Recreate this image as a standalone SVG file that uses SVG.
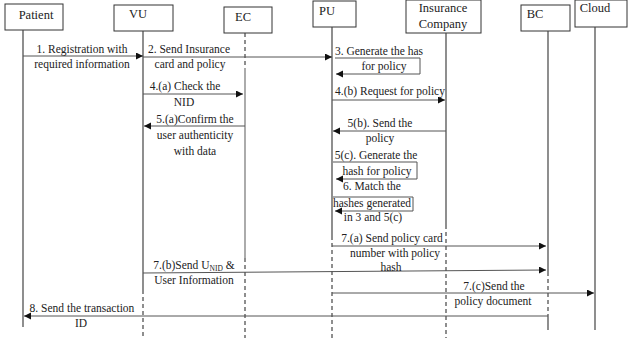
<svg xmlns="http://www.w3.org/2000/svg" width="628" height="339" viewBox="0 0 628 339">
<style>
.box{fill:#fff;stroke:#333;stroke-width:1}
.hd{font-family:"Liberation Serif",serif;font-size:12.5px;fill:#222;text-anchor:middle}
.t{font-family:"Liberation Serif",serif;font-size:11.5px;fill:#222;text-anchor:middle}
.sub{font-size:7.5px}
.ll{stroke:#444;stroke-width:1.2;fill:none}
.lg{stroke:#888;stroke-width:1.4;fill:none}
.dash{stroke-dasharray:4,3}
.msg{stroke:#555;stroke-width:1;fill:none}
</style>
<defs>
<marker id="ah" markerUnits="userSpaceOnUse" markerWidth="8" markerHeight="8" refX="7" refY="3.5" orient="auto">
<path d="M0,0 L7,3.5 L0,7 z" fill="#111"/>
</marker>
</defs>

<g id="patient">
<rect class="box" x="5" y="4" width="58" height="26"/>
<text class="hd" x="36" y="19">Patient</text>
<line class="ll" x1="23" y1="30" x2="23" y2="327"/>
</g>
<g id="vu">
<rect class="box" x="114" y="5" width="59" height="26"/>
<text class="hd" x="138" y="18">VU</text>
<line class="ll" x1="143" y1="31" x2="143" y2="290"/>
<line class="ll dash" x1="143" y1="290" x2="143" y2="337"/>
</g>
<g id="ec">
<rect class="box" x="224" y="7" width="48" height="26"/>
<text class="hd" x="243" y="21">EC</text>
<line class="ll dash" x1="245" y1="33" x2="245" y2="68"/>
<line class="lg" x1="245" y1="68" x2="245" y2="258"/>
<line class="ll dash" x1="245" y1="258" x2="245" y2="338"/>
</g>
<g id="pu">
<rect class="box" x="313" y="1" width="43" height="26"/>
<text class="hd" x="327" y="15">PU</text>
<line class="ll" x1="332" y1="27" x2="332" y2="236"/>
<line class="ll dash" x1="332" y1="236" x2="332" y2="338"/>
</g>
<g id="insurance">
<rect class="box" x="406" y="0" width="75" height="33"/>
<text class="hd" x="443" y="12">Insurance</text>
<text class="hd" x="443" y="28">Company</text>
<line class="ll" x1="446" y1="33" x2="446" y2="225"/>
<line class="ll dash" x1="446" y1="225" x2="446" y2="338"/>
</g>
<g id="bc">
<rect class="box" x="521" y="5" width="49" height="26"/>
<text class="hd" x="535" y="18">BC</text>
<line class="ll" x1="548" y1="31" x2="548" y2="272"/>
<line class="ll dash" x1="548" y1="272" x2="548" y2="314"/>
<line class="ll" x1="548" y1="314" x2="548" y2="330"/>
</g>
<g id="cloud">
<rect class="box" x="575" y="0" width="52" height="27"/>
<text class="hd" x="595" y="12">Cloud</text>
<line class="ll" x1="595" y1="27" x2="595" y2="330"/>
</g>

<g id="connectors">
<line class="msg" x1="23" y1="56" x2="143" y2="56" marker-end="url(#ah)"/>
<line class="msg" x1="143" y1="57" x2="332" y2="57" marker-end="url(#ah)"/>
<path class="msg" d="M335,58 H420 V74 H336" marker-end="url(#ah)"/>
<line class="msg" x1="143" y1="94" x2="243" y2="94" marker-end="url(#ah)"/>
<line class="msg" x1="332" y1="100" x2="445" y2="100" marker-end="url(#ah)"/>
<line class="msg" x1="245" y1="126" x2="144" y2="126" marker-end="url(#ah)"/>
<line class="msg" x1="446" y1="131" x2="333" y2="131" marker-end="url(#ah)"/>
<path class="msg" d="M333,162 H417 V179 H336" marker-end="url(#ah)"/>
<path class="msg" d="M333,197 H413 V211 H335" marker-end="url(#ah)"/>
<line class="msg" x1="332" y1="246" x2="546" y2="246" marker-end="url(#ah)"/>
<line class="msg" x1="143" y1="273" x2="546" y2="270" marker-end="url(#ah)"/>
<line class="msg" x1="332" y1="293" x2="594" y2="293" marker-end="url(#ah)"/>
<line class="msg" x1="548" y1="316" x2="24" y2="316" marker-end="url(#ah)"/>
</g>

<g id="labels">
<text class="t" x="82" y="53">1. Registration with</text>
<text class="t" x="82" y="68">required information</text>
<text class="t" x="189" y="53">2. Send Insurance</text>
<text class="t" x="190" y="68">card and policy</text>
<text class="t" x="379" y="55">3. Generate the has</text>
<text class="t" x="384" y="70">for policy</text>
<text class="t" x="185" y="90">4.(a) Check the</text>
<text class="t" x="184" y="106">NID</text>
<text class="t" x="390" y="95">4.(b) Request for policy</text>
<text class="t" x="195" y="123">5.(a)Confirm the</text>
<text class="t" x="195" y="139">user authenticity</text>
<text class="t" x="195" y="155">with data</text>
<text class="t" x="380" y="127">5(b). Send the</text>
<text class="t" x="380" y="142">policy</text>
<text class="t" x="376" y="159">5(c). Generate the</text>
<text class="t" x="377" y="175">hash for policy</text>
<text class="t" x="372" y="190">6. Match the</text>
<text class="t" x="372" y="207">hashes generated</text>
<text class="t" x="373" y="221">in 3 and 5(c)</text>
<text class="t" x="392" y="242">7.(a) Send policy card</text>
<text class="t" x="395" y="257">number with policy</text>
<text class="t" x="391" y="271">hash</text>
<text class="t" x="194" y="269">7.(b)Send U<tspan class="sub" dy="2">NID</tspan><tspan dy="-2"> &amp;</tspan></text>
<text class="t" x="194" y="284">User Information</text>
<text class="t" x="494" y="290">7.(c)Send the</text>
<text class="t" x="493" y="305">policy document</text>
<text class="t" x="82" y="312">8. Send the transaction</text>
<text class="t" x="81" y="327">ID</text>
</g>
</svg>
